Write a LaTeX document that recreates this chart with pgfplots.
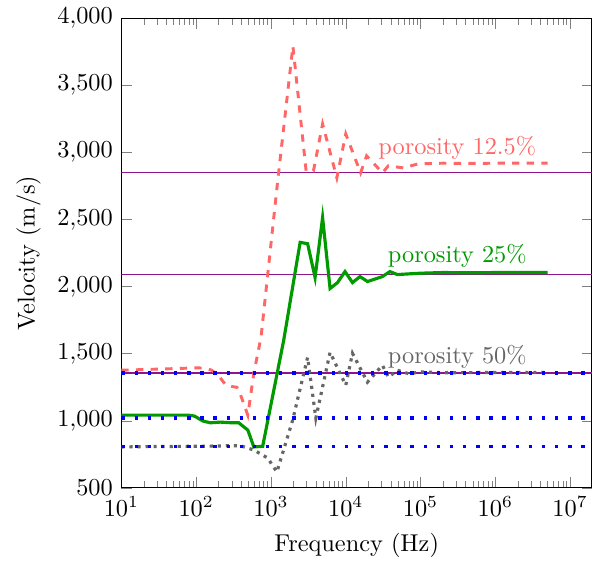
\documentclass[border=0pt]{standalone}
\usepackage{pgfplots}
\pgfplotsset{compat=1.18}
\definecolor{cred}{RGB}{255,102,102}
\definecolor{cgreen}{RGB}{0,153,0}
\definecolor{cgray}{RGB}{102,102,102}
\definecolor{cpurple}{RGB}{140,20,140}
\begin{document}
\begin{tikzpicture}
\begin{axis}[
  scale only axis,
  width=193.4pt, height=193pt,
  xmode=log,
  xmin=10, xmax=1.96e7,
  ymin=500, ymax=4000,
  ytick={500,1000,1500,2000,2500,3000,3500,4000},
  xtick={1e1,1e2,1e3,1e4,1e5,1e6,1e7},
  xlabel={Frequency (Hz)},
  ylabel={Velocity (m/s)},
  clip=true,
]
% reference lines
\addplot[cpurple, line width=0.6pt, forget plot] coordinates {(10,2850) (2e7,2850)};
\addplot[cpurple, line width=0.6pt, forget plot] coordinates {(10,2090) (2e7,2090)};
\addplot[cpurple, line width=0.6pt, forget plot] coordinates {(10,1355) (2e7,1355)};
% porosity 12.5%
\addplot[cred, dashed, line width=1.2pt] coordinates {
(10,1377) (30,1385) (60,1390) (100,1395) (130,1392) (160,1378) (200,1335) (250,1265) (300,1255) (350,1250) (400,1180) (490,1042) (590,1355) (736,1622) (1230,2789) (1965,3792) (2950,2863) (3700,2863) (4900,3212) (7600,2811) (10000,3138) (15800,2848) (19000,2975) (31000,2848) (37000,2900) (59000,2885) (93000,2915) (2e5,2920) (5e5,2918) (1e6,2920) (5e6,2920)
};
% porosity 25%
\addplot[cgreen, line width=1.3pt] coordinates {
(10,1042) (30,1042) (78,1042) (95,1035) (123,998) (155,985) (210,990) (300,985) (370,985) (490,931) (590,805) (775,810) (1480,1600) (2455,2330) (3090,2320) (3890,2068) (4900,2514) (6170,1986) (7760,2030) (9770,2112) (12300,2030) (15500,2075) (19500,2038) (30900,2075) (38900,2112) (49000,2090) (1e5,2100) (2e5,2105) (5e5,2103) (1e6,2105) (5e6,2105)
};
% porosity 50%
\addplot[cgray, dotted, line width=1.3pt] coordinates {
(10,805) (30,808) (100,810) (200,812) (300,815) (400,812) (590,782) (900,723) (1200,619) (1950,1005) (3090,1473) (3980,1020) (6170,1510) (10000,1265) (12300,1503) (19500,1288) (30900,1414) (37200,1325) (49000,1377) (70000,1350) (1e5,1365) (2e5,1358) (1e6,1360) (5e6,1360)
};
% blue dotted lines
\addplot[blue, loosely dotted, line width=1.4pt, forget plot] coordinates {(10,1355) (2e7,1355)};
\addplot[blue, loosely dotted, line width=1.4pt, forget plot] coordinates {(10,1020) (2e7,1020)};
\addplot[blue, loosely dotted, line width=1.4pt, forget plot] coordinates {(10,808) (2e7,808)};
\node[text=cred] at (axis cs:3.1e5,3034) {porosity 12.5\%};
\node[text=cgreen] at (axis cs:3.1e5,2231) {porosity 25\%};
\node[text=cgray] at (axis cs:3.1e5,1473) {porosity 50\%};
\end{axis}
\path ([xshift=-3.4pt]current axis.outer west);
\path ([xshift=2.9pt]current axis.east);
\end{tikzpicture}
\end{document}
